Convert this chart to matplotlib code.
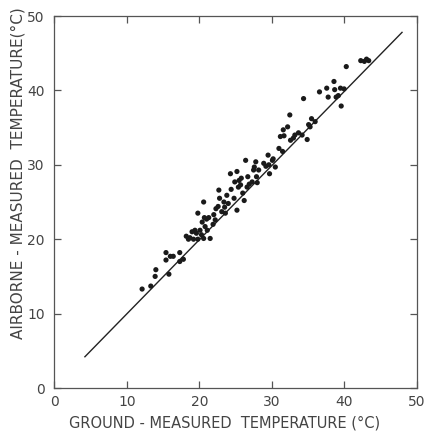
import matplotlib
matplotlib.use("Agg")
import matplotlib.pyplot as plt

ground = [12.1, 13.3, 13.9, 14.0, 15.4, 15.4, 15.8, 16.0, 16.4, 17.3, 17.3, 17.8,
          18.2, 18.5, 18.7, 19.2, 19.4, 19.6, 19.8, 19.8, 20.1, 20.4, 20.6, 20.7,
          20.8, 20.6, 21.0, 21.1, 21.5, 21.9, 22.2, 22.3, 22.6, 22.7, 22.8, 23.1,
          23.4, 23.5, 23.6, 23.8, 24.3, 24.4, 24.8, 24.9, 25.2, 25.2, 25.4, 25.5,
          25.7, 26.0, 26.2, 26.4, 26.7, 26.9, 27.3, 27.5, 27.6, 27.8, 27.9, 28.2,
          28.9, 29.5, 29.6, 29.7, 30.1, 30.5, 31.0, 31.2, 31.6, 31.7, 32.2, 32.5,
          32.6, 33.2, 33.7, 34.2, 34.4, 34.9, 35.3, 35.5, 36.6, 37.6, 37.8, 38.6,
          38.7, 38.9, 39.5, 39.6, 40.3, 42.3, 42.8, 43.1, 43.4,
          21.3, 22.0, 24.0, 26.6, 28.0, 29.2, 30.2, 31.5, 33.0, 35.1, 36.0, 39.2,
          40.0, 19.0, 20.3, 25.8]
airborne = [13.3, 13.7, 15.0, 15.9, 18.2, 17.2, 15.3, 17.7, 17.7, 18.2, 17.0, 17.3,
            20.4, 20.0, 20.2, 20.0, 21.2, 20.8, 20.0, 23.5, 21.2, 22.3, 25.0, 22.9,
            21.7, 20.1, 22.7, 21.2, 20.1, 22.0, 22.6, 24.1, 24.4, 26.6, 25.5, 23.7,
            25.0, 24.3, 23.5, 25.9, 28.8, 26.7, 25.5, 27.7, 29.1, 23.9, 27.0, 27.9,
            27.3, 26.2, 25.2, 30.6, 28.4, 27.4, 27.7, 29.3, 29.7, 30.4, 28.4, 29.3,
            30.2, 31.3, 30.0, 28.8, 30.6, 29.7, 32.2, 33.8, 34.7, 33.9, 35.1, 36.7,
            33.3, 34.0, 34.3, 34.0, 38.9, 33.4, 35.1, 36.2, 39.8, 40.3, 39.1, 41.2,
            40.1, 39.1, 40.3, 37.9, 43.2, 44.0, 43.9, 44.2, 44.0,
            22.9, 23.3, 24.8, 27.0, 27.6, 29.8, 30.8, 31.8, 33.6, 35.4, 35.8, 39.3,
            40.2, 21.0, 20.6, 28.2]

line_x = [4.2, 48.0]
line_y = [4.2, 47.8]

xticks = [0, 10, 20, 30, 40, 50]
yticks = [0, 10, 20, 30, 40, 50]

tc = "#444444"
fig = plt.figure(figsize=(4.26, 4.32), dpi=100)
ax = fig.add_axes([54.5 / 426, 1 - 388 / 432, 362 / 426, 372 / 432])

ax.plot(line_x, line_y, color="#222222", lw=1.0, zorder=2)
ax.scatter(ground, airborne, s=14, color="#1a1a1a", edgecolors="none", zorder=3)

ax.set_xlim(0, 50)
ax.set_ylim(0, 50)
ax.set_xticks(xticks)
ax.set_yticks(yticks)
ax.tick_params(direction="in", length=5, width=0.9, top=True, right=True,
               colors="#555555", labelcolor=tc, labelsize=10)
ax.tick_params(axis="x", pad=5)
ax.tick_params(axis="y", pad=7)
for s in ax.spines.values():
    s.set_color("#555555")
    s.set_linewidth(0.9)

ax.set_xlabel("GROUND - MEASURED  TEMPERATURE (°C)", fontsize=10.5, color=tc)
ax.xaxis.set_label_coords(0.47, -0.095, transform=ax.transAxes)
ax.xaxis.label.set_va("center")
ax.set_ylabel("AIRBORNE - MEASURED  TEMPERATURE(°C)", fontsize=11, color=tc)
ax.yaxis.set_label_coords(-0.1, 0.578, transform=ax.transAxes)
ax.yaxis.label.set_va("center")

fig.savefig("out.png", dpi=100)
